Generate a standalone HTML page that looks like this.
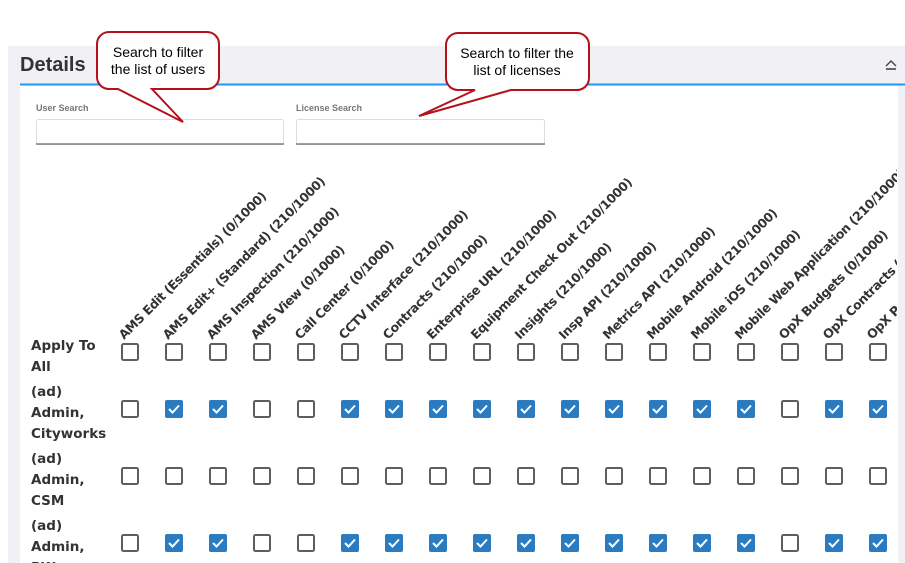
<!DOCTYPE html>
<html><head><meta charset="utf-8"><style>
html,body{margin:0;padding:0;background:#fff;}
svg{display:block;}
text{font-family:"Liberation Sans",sans-serif;}
.lab{font-family:"DejaVu Sans","Liberation Sans",sans-serif;font-size:12.5px;fill:#333;font-weight:bold;letter-spacing:-0.4px}
.row{font-family:"DejaVu Sans","Liberation Sans",sans-serif;font-size:13.5px;fill:#333;font-weight:bold}
</style></head><body>
<svg width="905" height="563" viewBox="0 0 905 563" xmlns="http://www.w3.org/2000/svg">
<rect x="8" y="46" width="897" height="517" fill="#f0f0f5"/>
<rect x="20" y="85" width="878" height="478" fill="#fff"/>
<line x1="20" y1="84.5" x2="905" y2="84.5" stroke="#2196f3" stroke-width="2"/>
<text x="20" y="71" font-family="DejaVu Sans,Liberation Sans,sans-serif" font-size="20" font-weight="bold" fill="#333">Details</text>
<path d="M886 66 l5 -5 l5 5" fill="none" stroke="#444" stroke-width="1.4"/>
<line x1="886" y1="69" x2="896" y2="69" stroke="#444" stroke-width="1.6"/>
<text x="36" y="111" font-size="9" font-weight="bold" fill="#777">User Search</text>
<text x="296" y="111" font-size="9" font-weight="bold" fill="#777">License Search</text>
<rect x="36.5" y="119.5" width="247" height="25" rx="2" fill="#fff" stroke="#ddd"/>
<line x1="36" y1="144" x2="284" y2="144" stroke="#666" stroke-width="1.2"/>
<rect x="296.5" y="119.5" width="248" height="25" rx="2" fill="#fff" stroke="#ddd"/>
<line x1="296" y1="144" x2="545" y2="144" stroke="#666" stroke-width="1.2"/>
<g id="labels"></g>
<g id="boxes"></g>
<text class="row" x="31" y="350">Apply To</text><text class="row" x="31" y="371">All</text>
<text class="row" x="31" y="396">(ad)</text><text class="row" x="31" y="417">Admin,</text><text class="row" x="31" y="438">Cityworks</text>
<text class="row" x="31" y="463">(ad)</text><text class="row" x="31" y="484">Admin,</text><text class="row" x="31" y="505">CSM</text>
<text class="row" x="31" y="530">(ad)</text><text class="row" x="31" y="551">Admin,</text><text class="row" x="31" y="572">PW</text>
<!-- callouts -->
<path d="M109 32 H207 a12 12 0 0 1 12 12 V77 a12 12 0 0 1 -12 12 H152 L183 122 L118 89 H109 a12 12 0 0 1 -12 -12 V44 a12 12 0 0 1 12 -12 Z" fill="#fff" stroke="#b3121b" stroke-width="2"/>
<text x="158" y="57" font-size="14" text-anchor="middle" fill="#000">Search to filter</text>
<text x="158" y="74" font-size="14" text-anchor="middle" fill="#000">the list of users</text>
<path d="M458 33 H577 a12 12 0 0 1 12 12 V78 a12 12 0 0 1 -12 12 H511 L419 116 L475 90 H458 a12 12 0 0 1 -12 -12 V45 a12 12 0 0 1 12 -12 Z" fill="#fff" stroke="#b3121b" stroke-width="2"/>
<text x="517" y="58" font-size="14" text-anchor="middle" fill="#000">Search to filter the</text>
<text x="517" y="75" font-size="14" text-anchor="middle" fill="#000">list of licenses</text>
</svg>
<script>
var names=["AMS Edit (Essentials) (0/1000)","AMS Edit+ (Standard) (210/1000)","AMS Inspection (210/1000)","AMS View (0/1000)","Call Center (0/1000)","CCTV Interface (210/1000)","Contracts (210/1000)","Enterprise URL (210/1000)","Equipment Check Out (210/1000)","Insights (210/1000)","Insp API (210/1000)","Metrics API (210/1000)","Mobile Android (210/1000)","Mobile iOS (210/1000)","Mobile Web Application (210/1000)","OpX Budgets (0/1000)","OpX Contracts (210/1000)","OpX Projects (210/1000)"];
var chk=[0,1,1,0,0,1,1,1,1,1,1,1,1,1,1,0,1,1];
var ns="http://www.w3.org/2000/svg";
var svg=document.querySelector("svg");
var L=document.getElementById("labels"),B=document.getElementById("boxes");
var clip=document.createElementNS(ns,"clipPath");clip.id="c";
var cr=document.createElementNS(ns,"rect");cr.setAttribute("x",20);cr.setAttribute("y",150);cr.setAttribute("width",877);cr.setAttribute("height",200);
clip.appendChild(cr);svg.appendChild(clip);L.setAttribute("clip-path","url(#c)");
var rows=[352,409,476,543];
for(var i=0;i<18;i++){
 var cx=130+44*i;
 var t=document.createElementNS(ns,"text");t.setAttribute("class","lab");
 t.setAttribute("transform","translate("+(cx-6)+",340) rotate(-45)");
 t.textContent=names[i];L.appendChild(t);
 for(var r=0;r<4;r++){
  var on=r>0&&r!=2&&chk[i];
  var y=rows[r];
  var b=document.createElementNS(ns,"rect");
  if(on){b.setAttribute("x",cx-9);b.setAttribute("y",y-9);b.setAttribute("width",18);b.setAttribute("height",18);b.setAttribute("rx",2);b.setAttribute("fill","#2a7bbf");}
  else{b.setAttribute("x",cx-8);b.setAttribute("y",y-8);b.setAttribute("width",16);b.setAttribute("height",16);b.setAttribute("rx",1.5);b.setAttribute("fill","#fff");b.setAttribute("stroke","#5a5e63");b.setAttribute("stroke-width",2);}
  B.appendChild(b);
  if(on){var p=document.createElementNS(ns,"path");p.setAttribute("d","M"+(cx-5)+" "+y+" l3.5 3.5 l6.5 -7");p.setAttribute("fill","none");p.setAttribute("stroke","#fff");p.setAttribute("stroke-width",2);B.appendChild(p);}
 }
}
</script>
</body></html>
